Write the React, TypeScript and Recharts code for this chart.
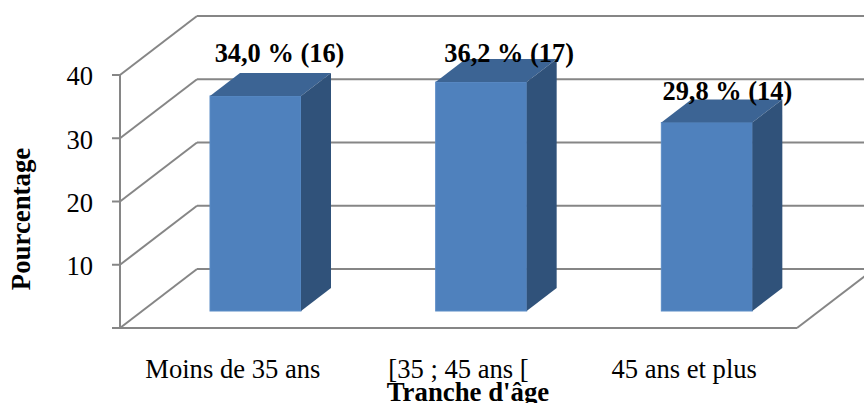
import React from "react";
import { BarChart, Bar, XAxis, YAxis, CartesianGrid, LabelList } from "recharts";

const categories = ["Moins de 35 ans", "[35 ; 45 ans [", "45 ans et plus"];
const percentages = [34.0, 36.2, 29.8];
const counts = [16, 17, 14];
const yTicks = [0, 10, 20, 30, 40];

const rows = categories.map((name, i) => ({ name, pct: percentages[i], n: counts[i] }));

const WIDTH = 864;
const HEIGHT = 403;
const AXIS_BAND = 30;
const MARGIN = { top: 75, right: 67, bottom: 75 - AXIS_BAND, left: 0 };
const PLOT_BOTTOM = HEIGHT - MARGIN.bottom - AXIS_BAND;
const FONT = "'Liberation Serif', serif";
const TICK_SIZE = 26.6;
const TITLE_SIZE = 26.8;
const VALUE_SIZE = 26.4;

// Box depth of the chart's 3D frame, and of each column inside it.
const WALL_DX = 77;
const WALL_DY = -59;
const COL_SHIFT_X = 23;
const COL_SHIFT_Y = -17;
const COL_DX = 30;
const COL_DY = -23;

const LINE = "#868686";
const FRONT = "#4f81bd";
const TOP = "#3c6494";
const SIDE = "#30527a";

// Hand placement of the value labels relative to each column's front top edge.
const labelLift = [34, 20, 23];
const labelShift = [24, 28, 20.5];

function WallLine(p: any) {
  const { x1, x2, y1 } = p;
  const bx = x1 + WALL_DX;
  const by = y1 + WALL_DY;
  return (
    <g key={`wall-${y1}`} fill="none" stroke={LINE} strokeWidth={2}>
      <line x1={x1} y1={y1} x2={bx} y2={by} />
      <line x1={bx} y1={by} x2={x2 + WALL_DX} y2={by} />
      {Math.abs(y1 - PLOT_BOTTOM) < 1 && (
        <line x1={x2} y1={y1} x2={x2 + WALL_DX} y2={by} />
      )}
    </g>
  );
}

function Column(p: any) {
  const x = p.x + COL_SHIFT_X;
  const y = p.y + COL_SHIFT_Y;
  const w = p.width;
  const h = p.height;
  return (
    <g>
      <rect x={x} y={y} width={w} height={h} fill={FRONT} stroke="#5b8cc6" strokeWidth={1} />
      <polygon
        points={`${x},${y} ${x + COL_DX},${y + COL_DY} ${x + w + COL_DX},${y + COL_DY} ${x + w},${y}`}
        fill={TOP}
      />
      <polygon
        points={`${x + w},${y} ${x + w + COL_DX},${y + COL_DY} ${x + w + COL_DX},${y + h + COL_DY} ${x + w},${y + h}`}
        fill={SIDE}
      />
    </g>
  );
}

function ValueLabel(p: any) {
  const { x, y, width, value, index } = p;
  const text = `${Number(value).toFixed(1).replace(".", ",")} % (${counts[index]})`;
  return (
    <text
      x={x + width / 2 + COL_SHIFT_X + labelShift[index]}
      y={y + COL_SHIFT_Y - labelLift[index]}
      textAnchor="middle"
      fontFamily={FONT}
      fontWeight="bold"
      fontSize={VALUE_SIZE}
      fill="#000"
    >
      {text}
    </text>
  );
}

const YTitle = () => (
  <text
    transform="translate(30 219) rotate(-90)"
    textAnchor="middle"
    fontFamily={FONT}
    fontWeight="bold"
    fontSize={TITLE_SIZE}
    fill="#000"
  >
    Pourcentage
  </text>
);

const XTitle = () => (
  <text
    x={468}
    y={401}
    textAnchor="middle"
    fontFamily={FONT}
    fontWeight="bold"
    fontSize={TITLE_SIZE}
    fill="#000"
  >
    Tranche d'âge
  </text>
);

export default function App() {
  return (
    <div style={{ position: "absolute", left: 0, top: 0, width: WIDTH, height: HEIGHT }}>
      <BarChart width={WIDTH} height={HEIGHT} data={rows} margin={MARGIN} barSize={91}>
        <CartesianGrid horizontal={WallLine} vertical={false} />
        <XAxis
          dataKey="name"
          height={AXIS_BAND}
          axisLine={{ stroke: LINE, strokeWidth: 2 }}
          tickLine={false}
          tickMargin={25}
          interval={0}
          tick={{ fontFamily: FONT, fontSize: TICK_SIZE, fill: "#000" }}
          label={<XTitle />}
        />
        <YAxis
          width={120}
          domain={[0, 40]}
          ticks={yTicks}
          tickFormatter={(v: number) => (v === 0 ? "" : String(v))}
          axisLine={{ stroke: LINE, strokeWidth: 2 }}
          tickLine={{ stroke: LINE, strokeWidth: 2 }}
          tickSize={8}
          tickMargin={19}
          tick={{ fontFamily: FONT, fontSize: TICK_SIZE, fill: "#000", dy: 1 }}
          label={<YTitle />}
        />
        <Bar dataKey="pct" shape={Column} isAnimationActive={false}>
          <LabelList dataKey="pct" content={ValueLabel} />
        </Bar>
      </BarChart>
    </div>
  );
}
